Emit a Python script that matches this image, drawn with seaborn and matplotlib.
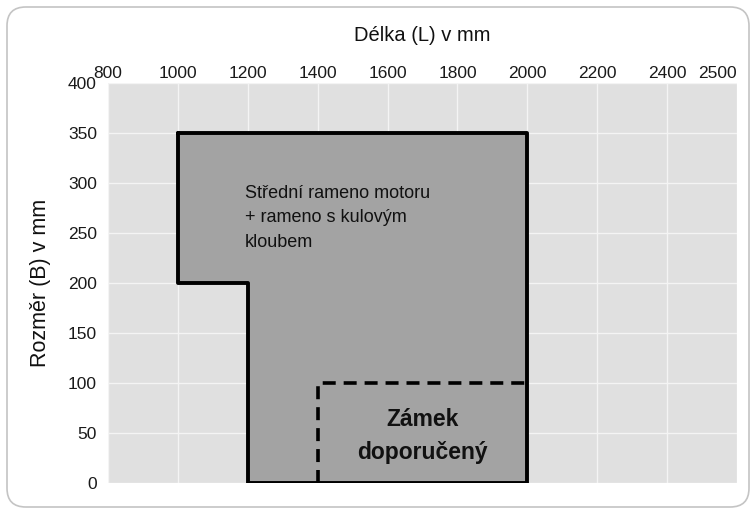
import matplotlib
matplotlib.use("Agg")
import matplotlib.pyplot as plt
import seaborn as sns
import pandas as pd
from matplotlib.patches import FancyBboxPatch

# Outline of the usable area (length L, width B in mm)
area_L = [1000, 2000, 2000, 1200, 1200, 1000, 1000]
area_B = [350, 350, 0, 0, 200, 200, 350]

# Recommended lock zone (dashed)
lock_L = [1400, 1400, 2000]
lock_B = [0, 100, 100]

# Axis ticks
x_tick_pos = [800, 1000, 1200, 1400, 1600, 1800, 2000, 2200, 2400, 2600]
x_tick_labels = ["800", "1000", "1200", "1400", "1600", "1800", "2000", "2200", "2400", "2500"]
y_ticks = [0, 50, 100, 150, 200, 250, 300, 350, 400]

sns.set_theme(style="darkgrid", rc={
    "axes.facecolor": "#e0e0e0",
    "grid.color": "#f4f4f4",
    "grid.linewidth": 1.0,
})
plt.rcParams["font.family"] = ["Liberation Sans", "DejaVu Sans"]

W, H = 751, 509
fig = plt.figure(figsize=(W / 100, H / 100), dpi=100)
fig.patch.set_facecolor("white")
ax = fig.add_axes([108 / W, 1 - 483 / H, (737 - 108) / W, (483 - 83) / H])

# rounded frame around the figure
frame = FancyBboxPatch((7 / W, 1 - 507 / H), (749 - 7) / W, (507 - 7) / H,
                       boxstyle="round,pad=0,rounding_size=0.025",
                       transform=fig.transFigure, facecolor="none",
                       edgecolor="#c4c4c4", linewidth=1.2, zorder=0,
                       mutation_aspect=W / H)
fig.patches.append(frame)

ax.fill(area_L, area_B, color="#a3a3a3", zorder=2, linewidth=0)
outline = pd.DataFrame({"L": area_L, "B": area_B})
sns.lineplot(data=outline, x="L", y="B", sort=False, estimator=None,
             color="black", linewidth=2.8, ax=ax, zorder=3)
lock = pd.DataFrame({"L": lock_L, "B": lock_B})
sns.lineplot(data=lock, x="L", y="B", sort=False, estimator=None,
             color="black", linewidth=2.6, linestyle=(0, (3.6, 2.2)), ax=ax, zorder=3)

ax.set_xlim(800, 2600)
ax.set_ylim(0, 400)
ax.set_xticks(x_tick_pos)
ax.set_xticklabels(x_tick_labels)
ax.set_yticks(y_ticks)
ax.xaxis.tick_top()
ax.xaxis.set_label_position("top")
ax.tick_params(axis="both", labelsize=12.5, colors="#1a1a1a", length=0)
ax.tick_params(axis="x", pad=1.5)
ax.tick_params(axis="y", pad=8)
ax.get_xticklabels()[-1].set_horizontalalignment("right")
ax.set_xlabel("Délka (L) v mm", fontsize=14.5, labelpad=18, color="#111111")
ax.set_ylabel("Rozměr (B) v mm", fontsize=15.5, labelpad=12, color="#111111")
for s in ax.spines.values():
    s.set_visible(False)

ax.text(1192, 265, "Střední rameno motoru\n+ rameno s kulovým\nkloubem",
        fontsize=13, ha="left", va="center", linespacing=1.6,
        color="#111111", zorder=4)
ax.text(1700, 47, "Zámek\ndoporučený", fontsize=16.5, fontweight="bold",
        ha="center", va="center", linespacing=1.6,
        color="#111111", zorder=4)

fig.savefig("out.png", dpi=100)
